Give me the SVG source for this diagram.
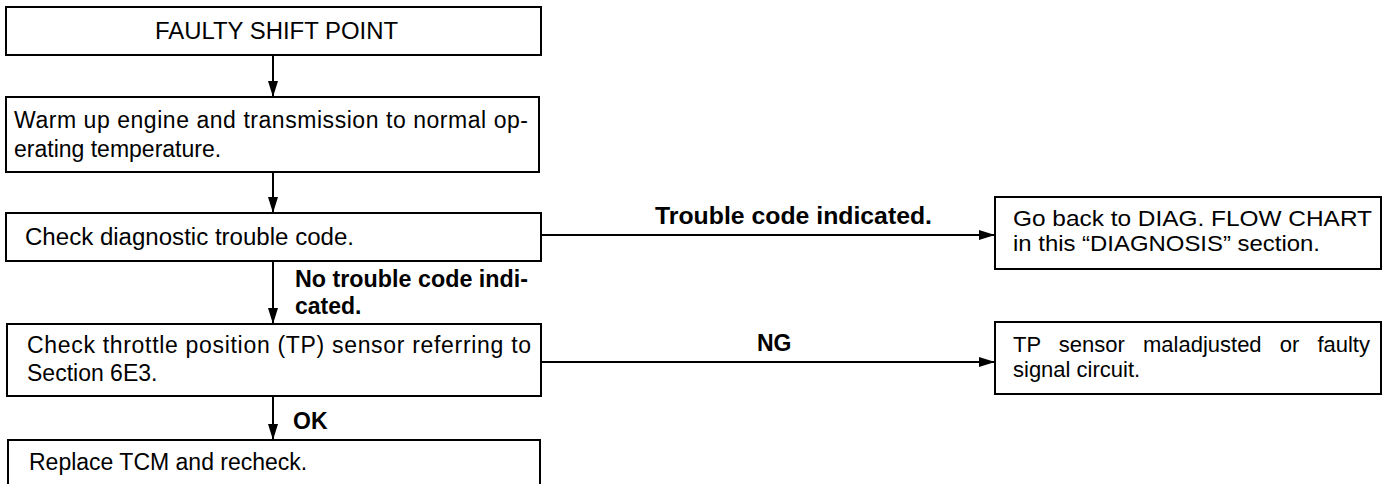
<svg xmlns="http://www.w3.org/2000/svg" width="1387" height="484" viewBox="0 0 1387 484">
<style>
.box{fill:#fff;stroke:#000;stroke-width:2}
.t{font-family:"Liberation Sans",Arial,Helvetica,sans-serif;font-size:23px;fill:#000}
.r{font-family:"Liberation Sans",Arial,Helvetica,sans-serif;font-size:22px;fill:#000}
.b{font-family:"Liberation Sans",Arial,Helvetica,sans-serif;font-size:23px;font-weight:bold;fill:#000}
.ln{stroke:#000;stroke-width:2;fill:none}
</style>
<defs>
<marker id="ah" viewBox="0 0 16 10" refX="16" refY="5" markerWidth="16" markerHeight="10" markerUnits="userSpaceOnUse" orient="auto">
<path d="M0,0 L16,5 L0,10 z" fill="#000"/>
</marker>
</defs>
<rect width="1387" height="484" fill="#fff"/>
<g id="connectors">
<line class="ln" x1="273" y1="55" x2="273" y2="97" marker-end="url(#ah)"/>
<line class="ln" x1="273" y1="172" x2="273" y2="213" marker-end="url(#ah)"/>
<line class="ln" x1="273" y1="261" x2="273" y2="324" marker-end="url(#ah)"/>
<line class="ln" x1="273" y1="396" x2="273" y2="440" marker-end="url(#ah)"/>
<line class="ln" x1="541" y1="235" x2="995" y2="235" marker-end="url(#ah)"/>
<line class="ln" x1="541" y1="362" x2="995" y2="362" marker-end="url(#ah)"/>
<text class="b" x="295" y="287" textLength="233" lengthAdjust="spacingAndGlyphs">No trouble code indi-</text>
<text class="b" x="295" y="314">cated.</text>
<text class="b" x="293" y="429">OK</text>
<text class="b" x="655" y="224" textLength="277" lengthAdjust="spacingAndGlyphs">Trouble code indicated.</text>
<text class="b" x="757" y="351">NG</text>
</g>
<g id="n1">
<rect class="box" x="6" y="7" width="535" height="48"/>
<text class="t" x="155" y="39" textLength="243" lengthAdjust="spacingAndGlyphs">FAULTY SHIFT POINT</text>
</g>
<g id="n2">
<rect class="box" x="6" y="97" width="533" height="75"/>
<text class="t" x="14" y="128" textLength="514">Warm up engine and transmission to normal op-</text>
<text class="t" x="14" y="157">erating temperature.</text>
</g>
<g id="n3">
<rect class="box" x="6" y="213" width="535" height="48"/>
<text class="t" x="25" y="245" textLength="329" lengthAdjust="spacingAndGlyphs">Check diagnostic trouble code.</text>
</g>
<g id="n4">
<rect class="box" x="7" y="324" width="534" height="72"/>
<text class="t" x="27" y="353" textLength="504">Check throttle position (TP) sensor referring to</text>
<text class="t" x="27" y="381">Section 6E3.</text>
</g>
<g id="n5">
<rect class="box" x="8" y="440" width="532" height="60"/>
<text class="t" x="29" y="470">Replace TCM and recheck.</text>
</g>
<g id="n6">
<rect class="box" x="995" y="197" width="386" height="72"/>
<text class="r" x="1013" y="226" textLength="359" lengthAdjust="spacingAndGlyphs">Go back to DIAG. FLOW CHART</text>
<text class="r" x="1013" y="251" textLength="307" lengthAdjust="spacingAndGlyphs">in this “DIAGNOSIS” section.</text>
</g>
<g id="n7">
<rect class="box" x="995" y="322" width="386" height="72"/>
<text class="r" x="1013" y="352" word-spacing="12">TP sensor maladjusted or faulty</text>
<text class="r" x="1013" y="377">signal circuit.</text>
</g>
</svg>
